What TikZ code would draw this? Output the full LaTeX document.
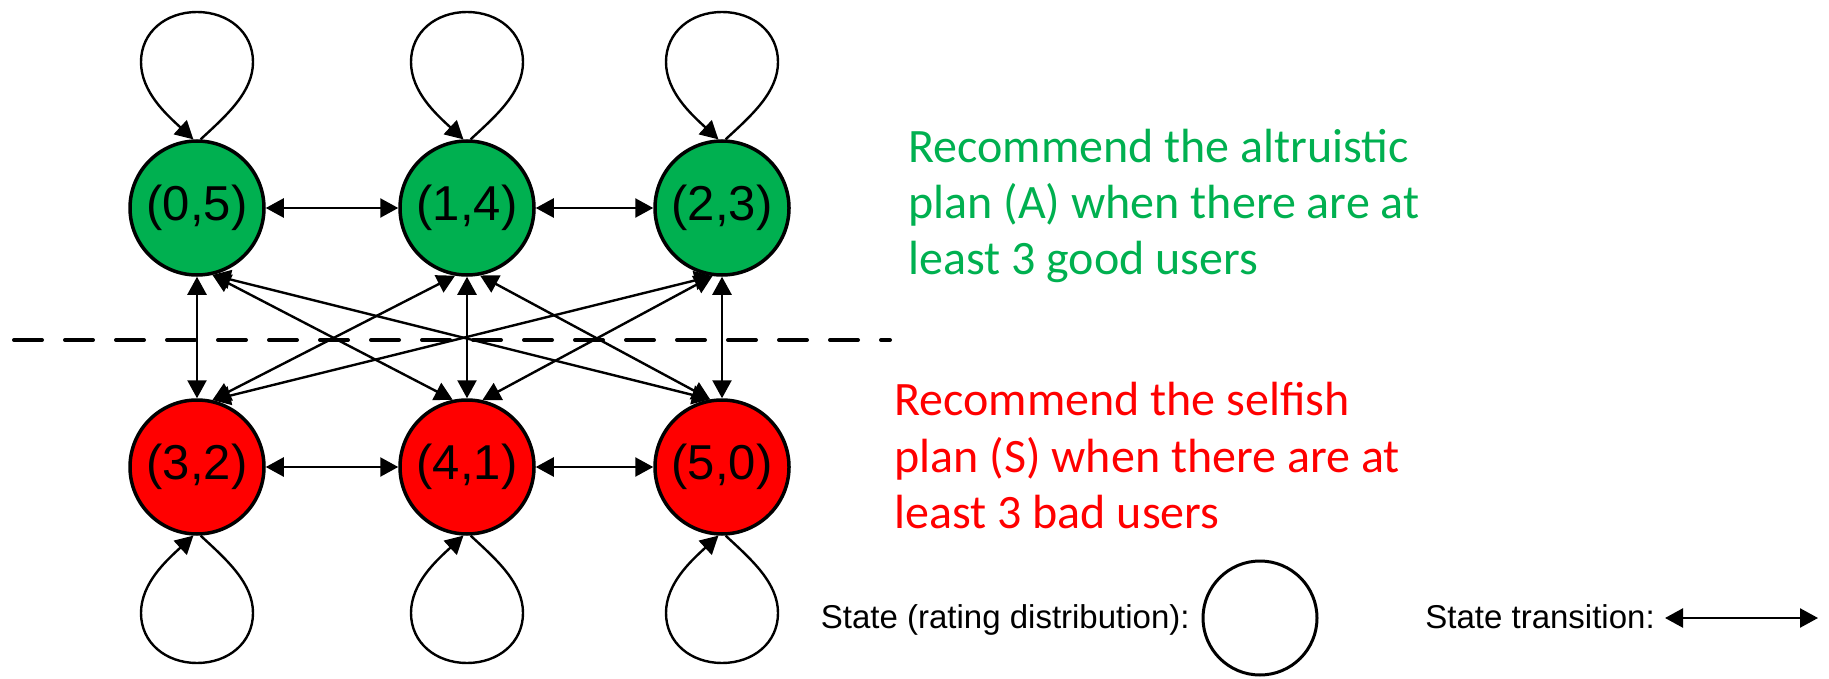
\documentclass[tikz,border=0pt]{standalone}
\usepackage{fontspec}
\setmainfont{Liberation Sans}
\newfontfamily\calibri{Carlito}
\usetikzlibrary{arrows.meta}
\definecolor{stgreen}{HTML}{00B050}
\definecolor{stred}{HTML}{FF0000}
\begin{document}
\begin{tikzpicture}[x=0.5pt,y=-0.5pt,
  state/.style={circle, draw=black, line width=1.75pt, minimum size=67pt, inner sep=0pt, font=\fontsize{24.5}{26}\selectfont},
  topstate/.style={state, fill=stgreen},
  botstate/.style={state, fill=stred},
  tip/.tip={Triangle[length=9pt,width=9.5pt]},
  conn/.style={line width=1.2pt, tip-tip},
  loopc/.style={line width=1.2pt, -tip},
  dashline/.style={line width=2pt, line cap=round, dash pattern=on 14pt off 11.5pt},
  gtxt/.style={anchor=base west, text=stgreen, inner sep=0pt, font=\calibri\fontsize{24}{28}\selectfont},
  rtxt/.style={anchor=base west, text=stred, inner sep=0pt, font=\calibri\fontsize{24}{28}\selectfont},
  legtxt/.style={inner sep=0pt, font=\fontsize{16.5}{20}\selectfont}
]
\useasboundingbox (0,0) rectangle (1829,679);

% dashed separator
\coordinate (d1) at (14,340);
\coordinate (d2) at (890,340);
\draw[dashline] (d1) -- (d2);

% states
\node[topstate] (n05) at (197,208) {(0,5)};
\node[topstate] (n14) at (467,208) {(1,4)};
\node[topstate] (n23) at (722,208) {(2,3)};
\node[botstate] (n32) at (197,467) {(3,2)};
\node[botstate] (n41) at (467,467) {(4,1)};
\node[botstate] (n50) at (722,467) {(5,0)};

% horizontal transitions
\draw[conn] (n05) -- (n14);
\draw[conn] (n14) -- (n23);
\draw[conn] (n32) -- (n41);
\draw[conn] (n41) -- (n50);

% vertical transitions
\draw[conn] (n05.south) -- (n32.north);
\draw[conn] (n14.south) -- (n41.north);
\draw[conn] (n23.south) -- (n50.north);

% diagonal transitions
\draw[conn] (n05.-77) -- (n41.102);
\draw[conn] (n05.-77) -- (n50.100);
\draw[conn] (n14.-100) -- (n32.77);
\draw[conn] (n14.-79) -- (n50.100);
\draw[conn] (n23.-98) -- (n32.77);
\draw[conn] (n23.-98) -- (n41.77);

% self loops (top row: above, bottom row: below)
\foreach \n in {n05,n14,n23}{
  \draw[loopc] (\n.87)
    .. controls ([shift={(30,-93)}]\n.center) and ([shift={(56,-116)}]\n.center) .. ([shift={(56,-146)}]\n.center)
    .. controls ([shift={(56,-176)}]\n.center) and ([shift={(31,-196)}]\n.center) .. ([shift={(0,-196)}]\n.center)
    .. controls ([shift={(-31,-196)}]\n.center) and ([shift={(-56,-176)}]\n.center) .. ([shift={(-56,-146)}]\n.center)
    .. controls ([shift={(-56,-116)}]\n.center) and ([shift={(-30,-93)}]\n.center) .. (\n.93);
}
\foreach \n in {n32,n41,n50}{
  \draw[loopc] (\n.-87)
    .. controls ([shift={(30,93)}]\n.center) and ([shift={(56,116)}]\n.center) .. ([shift={(56,146)}]\n.center)
    .. controls ([shift={(56,176)}]\n.center) and ([shift={(31,196)}]\n.center) .. ([shift={(0,196)}]\n.center)
    .. controls ([shift={(-31,196)}]\n.center) and ([shift={(-56,176)}]\n.center) .. ([shift={(-56,146)}]\n.center)
    .. controls ([shift={(-56,116)}]\n.center) and ([shift={(-30,93)}]\n.center) .. (\n.-93);
}

% explanatory texts
\node[gtxt] (g1) at (908,163) {Recommend the altruistic};
\node[gtxt] (g2) at (908,219) {plan (A) when there are at};
\node[gtxt] (g3) at (908,274) {least 3 good users};
\node[rtxt] (r1) at (894,415) {Recommend the selfish};
\node[rtxt] (r2) at (894,472) {plan (S) when there are at};
\node[rtxt] (r3) at (894,528) {least 3 bad users};

% legend
\node[legtxt, anchor=base east] (lt1) at (1190,628) {State (rating distribution):};
\node[circle, draw=black, line width=1.5pt, minimum size=57pt, inner sep=0pt] (lc) at (1260,618) {};
\node[legtxt, anchor=base west] (lt2) at (1425,628) {State transition:};
\coordinate (la1) at (1665,618);
\coordinate (la2) at (1818,618);
\draw[conn] (la1) -- (la2);
\end{tikzpicture}
\end{document}
